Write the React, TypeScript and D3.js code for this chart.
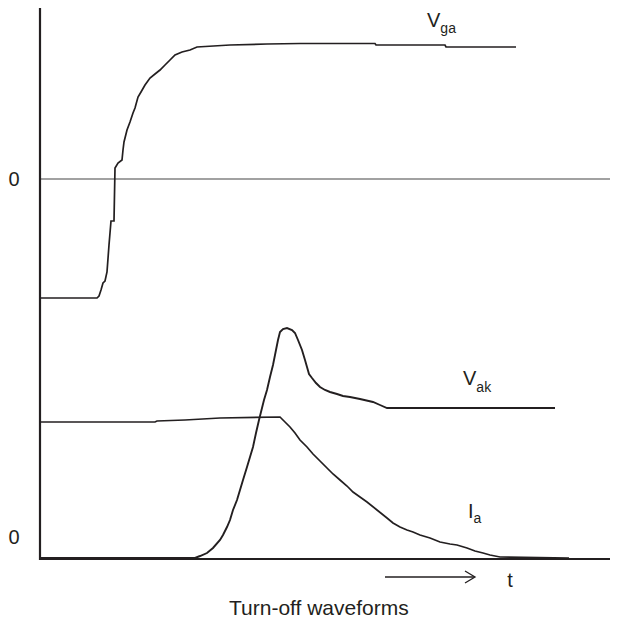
import React from "react";
import * as d3 from "d3";

// time (arbitrary units) and value (arbitrary units above the lower axis)
const vgaPoints: [number, number][] = [
  [0, 261], [57, 261], [59, 263], [61, 269], [63, 276], [65, 278], [67, 287],
  [69, 314], [70, 326], [71, 338], [74, 338], [75, 391], [78, 396], [82, 399],
  [83, 409], [84, 417], [87, 429], [90, 437], [93, 446], [95, 451], [98, 462],
  [101, 467], [105, 474], [110, 481], [115, 485], [120, 489], [125, 494],
  [130, 499], [135, 504], [142, 507], [150, 509], [157, 512], [190, 514],
  [227, 515], [260, 515.5], [335, 515.5], [336, 514], [405, 514], [406, 512],
  [476, 512],
];

const vakPoints: [number, number][] = [
  [0, 1], [155, 1], [160, 3], [167, 6], [173, 11], [180, 19], [183, 24],
  [187, 32], [190, 39], [193, 49], [197, 59], [200, 69], [203, 79], [207, 92],
  [210, 102], [213, 112], [216, 126], [219, 139], [221, 147], [224, 159],
  [227, 169], [230, 182], [233, 194], [236, 209], [238, 219], [240, 227],
  [243, 230], [247, 231], [252, 229], [255, 226], [258, 219], [262, 209],
  [265, 199], [267, 192], [269, 185], [272, 181], [276, 176], [280, 172],
  [285, 169], [290, 167], [297, 165], [303, 163], [310, 162], [320, 160],
  [333, 157], [340, 154], [347, 151], [515, 151],
];

const iaPoints: [number, number][] = [
  [0, 137], [115, 137], [117, 138], [145, 139], [180, 141], [240, 142],
  [245, 137], [250, 132], [255, 126], [260, 119], [267, 112], [273, 105],
  [280, 98], [287, 91], [293, 85], [300, 79], [307, 73], [313, 67], [320, 62],
  [327, 57], [337, 49], [347, 41], [353, 36], [360, 32], [367, 29], [373, 27],
  [380, 24], [390, 21], [400, 17], [410, 15], [417, 14], [427, 11], [435, 8],
  [443, 6], [450, 4], [460, 2], [529, 1],
];

const zeroLevels = [380, 0]; // upper zero (Vga), lower zero (Vak, Ia)
const title = "Turn-off waveforms";

const W = 627;
const H = 623;
const ink = "#231f20";
const font = "'Liberation Sans', Arial, Helvetica, sans-serif";

export default function App() {
  const x = d3.scaleLinear().domain([0, 570]).range([40, 610]);
  const y = d3.scaleLinear().domain([0, 550]).range([559, 9]);
  const line = d3
    .line<[number, number]>()
    .x((d) => x(d[0]))
    .y((d) => y(d[1]));

  return (
    <svg
      width={W}
      height={H}
      style={{ position: "absolute", left: 0, top: 0, background: "#fff" }}
      fontFamily={font}
    >
      <rect width={W} height={H} fill="#fff" />
      {/* upper zero line */}
      <line
        x1={x(0)}
        x2={x(570)}
        y1={y(zeroLevels[0])}
        y2={y(zeroLevels[0])}
        stroke="#444"
        strokeWidth={1.2}
      />
      {/* axes */}
      <line x1={x(0)} x2={x(0)} y1={y(551)} y2={y(-1)} stroke={ink} strokeWidth={2.2} />
      <line x1={x(-1)} x2={x(570)} y1={y(0)} y2={y(0)} stroke={ink} strokeWidth={2.2} />

      {/* curves */}
      <path d={line(vgaPoints) || ""} fill="none" stroke={ink} strokeWidth={1.7} />
      <path d={line(vakPoints) || ""} fill="none" stroke={ink} strokeWidth={1.9} />
      <path d={line(iaPoints) || ""} fill="none" stroke={ink} strokeWidth={1.7} />

      {/* zero labels */}
      {zeroLevels.map((z, i) => (
        <text
          key={i}
          x={14}
          y={(i === 0 ? y(z) : y(z) - 22.5) + 7}
          textAnchor="middle"
          fontSize={20}
          fill={ink}
        >
          0
        </text>
      ))}

      {/* series labels */}
      <text x={427} y={27} fontSize={20} fill={ink}>
        V
        <tspan fontSize={14} dy={6}>ga</tspan>
      </text>
      <text x={463} y={385} fontSize={20} fill={ink}>
        V
        <tspan fontSize={14} dy={7}>ak</tspan>
      </text>
      <text x={468} y={518} fontSize={20} fill={ink}>
        I
        <tspan fontSize={14} dy={5}>a</tspan>
      </text>

      {/* time arrow */}
      <line x1={385} x2={474} y1={577} y2={577} stroke={ink} strokeWidth={1.3} />
      <path d="M465,571 L475,577 L465,583" fill="none" stroke={ink} strokeWidth={1.3} />
      <text x={510} y={587} textAnchor="middle" fontSize={20} fill={ink}>
        t
      </text>

      {/* title */}
      <text x={229} y={615} fontSize={21} fill={ink}>
        {title}
      </text>
    </svg>
  );
}
